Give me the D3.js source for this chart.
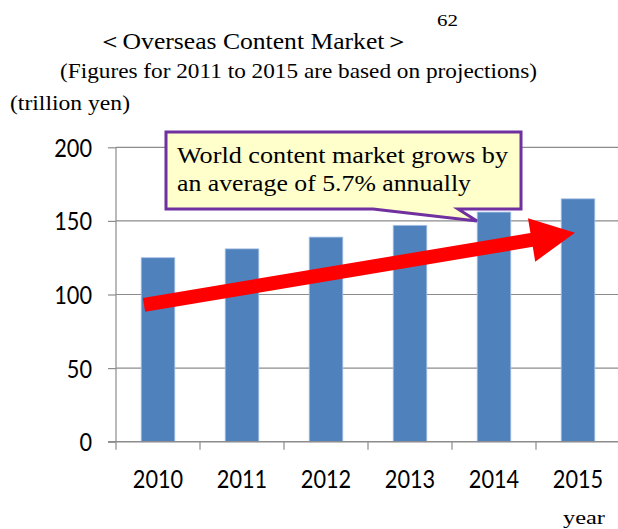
<!DOCTYPE html>
<html>
<head>
<meta charset="utf-8">
<script src="https://cdn.jsdelivr.net/npm/d3@7/dist/d3.min.js"></script>
<style>
  html, body { margin: 0; padding: 0; background: #fff; }
  svg { display: block; }
</style>
</head>
<body>
<svg id="chart" width="618" height="529"></svg>
<script>
// Overseas content market size, trillion yen (2011-2015 projected)
const years = ["2010", "2011", "2012", "2013", "2014", "2015"];
const marketValues = [125, 131, 139, 147, 156, 165];
const yTicks = [0, 50, 100, 150, 200];

const titleText = "＜Overseas Content Market＞";
const pageNumber = "62";
const subtitleText = "(Figures for 2011 to 2015 are based on projections)";
const unitText = "(trillion yen)";
const xAxisTitle = "year";
const calloutLines = ["World content market grows by", "an average of 5.7% annually"];

// trend arrow endpoints in data terms
const arrowStart = { year: "2010", value: 93 };
const arrowEnd = { year: "2015", value: 142 };

const svg = d3.select("#chart");
const serif = "'Liberation Serif', 'Times New Roman', serif";
const sans = "Lato, 'Open Sans', sans-serif";
const digitWidth = 12.6;

const x = d3.scaleBand().domain(years).range([116, 620]).paddingInner(0.6).paddingOuter(0.3);
const y = d3.scaleLinear().domain([0, 200]).range([441.7, 147.3]);

// horizontal gridlines
svg.append("g").selectAll("line").data(yTicks.filter(d => d > 0)).join("line")
  .attr("x1", 116).attr("x2", 618)
  .attr("y1", d => y(d)).attr("y2", d => y(d))
  .attr("stroke", "#8c8c8c").attr("stroke-width", 1.2);

// bars
svg.append("g").selectAll("rect").data(years).join("rect")
  .attr("x", d => x(d))
  .attr("y", (d, i) => y(marketValues[i]))
  .attr("width", x.bandwidth())
  .attr("height", (d, i) => y(0) - y(marketValues[i]))
  .attr("fill", "#4f81bd")
  .attr("stroke", "#a9c4e6").attr("stroke-width", 0.8);

// y axis
const yAxis = svg.append("g").attr("transform", "translate(116,0)")
  .call(d3.axisLeft(y).tickValues(yTicks).tickSize(8).tickPadding(16));
yAxis.select(".domain").attr("stroke", "#8c8c8c").attr("stroke-width", 1.2).attr("d", `M0,${y(200)}V${y(0)}`);
yAxis.selectAll(".tick line").attr("stroke", "#8c8c8c").attr("stroke-width", 1.2);
yAxis.selectAll(".tick text").attr("font-family", sans).attr("font-size", 25).attr("fill", "#000")
  .attr("dy", "0.36em")
  .attr("textLength", d => String(d).length * digitWidth).attr("lengthAdjust", "spacingAndGlyphs");

// x axis with ticks between categories
const xAxisG = svg.append("g").attr("transform", `translate(0,${y(0)})`);
xAxisG.append("line").attr("x1", 108).attr("x2", 618).attr("y1", 0).attr("y2", 0)
  .attr("stroke", "#8c8c8c").attr("stroke-width", 1.5);
const step = x.step();
xAxisG.selectAll("line.sep").data(d3.range(years.length)).join("line").attr("class", "sep")
  .attr("x1", i => x(years[i]) - (step - x.bandwidth()) / 2)
  .attr("x2", i => x(years[i]) - (step - x.bandwidth()) / 2)
  .attr("y1", 0).attr("y2", 8)
  .attr("stroke", "#8c8c8c").attr("stroke-width", 1.2);
xAxisG.selectAll("text").data(years).join("text")
  .attr("x", d => x(d) + x.bandwidth() / 2)
  .attr("y", 46.5)
  .attr("text-anchor", "middle")
  .attr("font-family", sans).attr("font-size", 25).attr("fill", "#000")
  .attr("textLength", d => d.length * digitWidth).attr("lengthAdjust", "spacingAndGlyphs")
  .text(d => d);

// titles (stretched to the typeset widths)
function serifText(str, cx, cy, size, width) {
  return svg.append("text").attr("x", cx).attr("y", cy)
    .attr("font-family", serif).attr("font-size", size)
    .attr("textLength", width).attr("lengthAdjust", "spacingAndGlyphs")
    .text(str);
}
serifText(titleText, 97, 49, 24, 313);
serifText(pageNumber, 437, 26, 17, 21);
serifText(subtitleText, 60, 78, 21.5, 477);
serifText(unitText, 10, 110, 20, 120);
serifText(xAxisTitle, 563, 524, 19, 42);

// trend arrow
const ax0 = x(arrowStart.year) + x.bandwidth() / 2 - 14, ay0 = y(arrowStart.value);
const ax1 = x(arrowEnd.year) + x.bandwidth() / 2 - 3, ay1 = y(arrowEnd.value);
const ang = Math.atan2(ay1 - ay0, ax1 - ax0);
const len = Math.hypot(ax1 - ax0, ay1 - ay0);
const shaftHalf = 7, headHalf = 22, headLen = 44;
const arrowPts = [
  [0, -shaftHalf], [len - headLen, -shaftHalf], [len - headLen, -headHalf],
  [len, 0], [len - headLen, headHalf], [len - headLen, shaftHalf], [0, shaftHalf]
].map(([u, v]) => [ax0 + u * Math.cos(ang) - v * Math.sin(ang), ay0 + u * Math.sin(ang) + v * Math.cos(ang)]);
svg.append("path").attr("d", d3.line()(arrowPts) + "Z").attr("fill", "#ff0000");

// callout box with pointer
const bx0 = 166, by0 = 132, bx1 = 521, by1 = 209;
const calloutPath = `M${bx0},${by0}H${bx1}V${by1}H458L477,221L373,${by1}H${bx0}Z`;
svg.append("path").attr("d", calloutPath)
  .attr("fill", "#ffffcc").attr("stroke", "#7030a0").attr("stroke-width", 3).attr("stroke-linejoin", "miter");
const calloutWidths = [331, 294];
calloutLines.forEach((line, i) => serifText(line, 177, 163 + i * 28, 23, calloutWidths[i]).attr("fill", "#000"));
</script>
</body>
</html>
